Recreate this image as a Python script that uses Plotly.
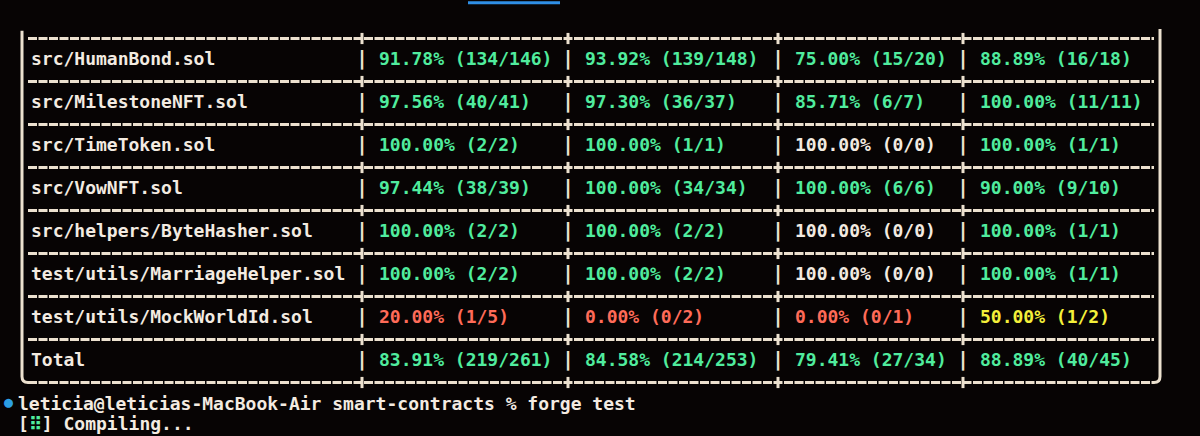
import plotly.graph_objects as go

# Datos de cobertura (forge coverage)
archivos = [
    "src/HumanBond.sol",
    "src/MilestoneNFT.sol",
    "src/TimeToken.sol",
    "src/VowNFT.sol",
    "src/helpers/ByteHasher.sol",
    "test/utils/MarriageHelper.sol",
    "test/utils/MockWorldId.sol",
    "Total",
]
lines_hit = [134, 40, 2, 38, 2, 2, 1, 219]
lines_tot = [146, 41, 2, 39, 2, 2, 5, 261]
stmts_hit = [139, 36, 1, 34, 2, 2, 0, 214]
stmts_tot = [148, 37, 1, 34, 2, 2, 2, 253]
branch_hit = [15, 6, 0, 6, 0, 0, 0, 27]
branch_tot = [20, 7, 0, 6, 0, 0, 1, 34]
funcs_hit = [16, 11, 1, 9, 1, 1, 1, 40]
funcs_tot = [18, 11, 1, 10, 1, 1, 2, 45]

prompt = "leticia@leticias-MacBook-Air smart-contracts % forge test"

FUENTE = "DejaVu Sans Mono"
VERDE = "#50ec9e"
BLANCO = "#f3ebe1"
ROJO = "#ff6b58"
AMARILLO = "#f4f03a"
LINEA = "#ece1cf"

# posiciones (en pixeles del lienzo) de cada columna
X_NOMBRE = 31
X_PIPES = [362, 568, 778, 963]
X_IZQ, X_DER = 22, 1160


def celda(hit, tot):
    if tot == 0:
        return "100.00% (0/0)", BLANCO
    pct = hit / tot * 100
    if pct >= 75:
        col = VERDE
    elif pct >= 50:
        col = AMARILLO
    else:
        col = ROJO
    return f"{pct:.2f}% ({hit}/{tot})", col


filas = list(range(len(archivos)))
fig = go.Figure()

# nombres de archivo
fig.add_trace(go.Scatter(
    x=[X_NOMBRE] * len(archivos), y=filas, mode="text", text=archivos,
    textposition="middle right",
    textfont=dict(family=FUENTE, size=18, color=BLANCO, weight="bold"),
    hoverinfo="skip"))

columnas = [(lines_hit, lines_tot), (stmts_hit, stmts_tot),
            (branch_hit, branch_tot), (funcs_hit, funcs_tot)]
for xp, (hits, tots) in zip(X_PIPES, columnas):
    textos, colores = zip(*[celda(h, t) for h, t in zip(hits, tots)])
    # separador "|"
    fig.add_trace(go.Scatter(
        x=[xp] * len(filas), y=filas, mode="text", text=["|"] * len(filas),
        textposition="middle center",
        textfont=dict(family=FUENTE, size=20, color=LINEA, weight="bold"),
        hoverinfo="skip"))
    fig.add_trace(go.Scatter(
        x=[xp + 17] * len(filas), y=filas, mode="text", text=list(textos),
        textposition="middle right",
        textfont=dict(family=FUENTE, size=18, color=list(colores), weight="bold"),
        hoverinfo="skip"))

# líneas horizontales de la tabla
for i in range(len(archivos) + 1):
    y = i - 0.5
    fig.add_shape(type="line", x0=X_IZQ + 6, x1=X_DER - 6, y0=y, y1=y,
                  line=dict(color=LINEA, width=3, dash="9px,1.5px"))
    for xp in X_PIPES:
        fig.add_shape(type="line", x0=xp, x1=xp, y0=y - 0.13, y1=y + 0.13,
                      line=dict(color=LINEA, width=3))

# bordes verticales con esquinas redondeadas abajo
yb = len(archivos) - 0.5
fig.add_shape(type="path",
              path=f"M {X_IZQ},-0.68 L {X_IZQ},{yb - 0.14} Q {X_IZQ},{yb} {X_IZQ + 6},{yb}",
              line=dict(color=LINEA, width=3))
fig.add_shape(type="path",
              path=f"M {X_DER},-0.72 L {X_DER},{yb - 0.14} Q {X_DER},{yb} {X_DER - 6},{yb}",
              line=dict(color=LINEA, width=3))

# pestaña azul arriba
fig.add_shape(type="line", x0=468, x1=560, y0=-1.33, y1=-1.33,
              line=dict(color="#2f8fe6", width=3))

# línea del prompt
fig.add_annotation(x=2 / 1200, y=1 - 402 / 436, xref="paper", yref="paper",
                   text="●", showarrow=False, xanchor="left", yanchor="middle",
                   font=dict(family=FUENTE, size=15, color="#2c9fe4"))
fig.add_annotation(x=16 / 1200, y=1 - 403 / 436, xref="paper", yref="paper",
                   text=prompt, showarrow=False, xanchor="left", yanchor="middle",
                   font=dict(family=FUENTE, size=18, color=BLANCO, weight="bold"))
fig.add_annotation(x=16 / 1200, y=1 - 423 / 436, xref="paper", yref="paper",
                   text=f"[<span style='color:{VERDE}'>⠿</span>] Compiling...",
                   showarrow=False, xanchor="left", yanchor="middle",
                   font=dict(family=FUENTE, size=18, color=BLANCO, weight="bold"))

fig.update_layout(
    width=1200, height=436,
    margin=dict(l=0, r=0, t=0, b=0),
    paper_bgcolor="#070404", plot_bgcolor="#070404",
    showlegend=False,
    xaxis=dict(range=[0, 1200], visible=False, fixedrange=True),
    yaxis=dict(range=[376 / 43, -60 / 43], visible=False, fixedrange=True),
)

# quitar el margen por defecto del body para que el lienzo ocupe la ventana
fig.write_html("out.html", config={"displayModeBar": False},
               post_script="document.body.style.margin='0';")
